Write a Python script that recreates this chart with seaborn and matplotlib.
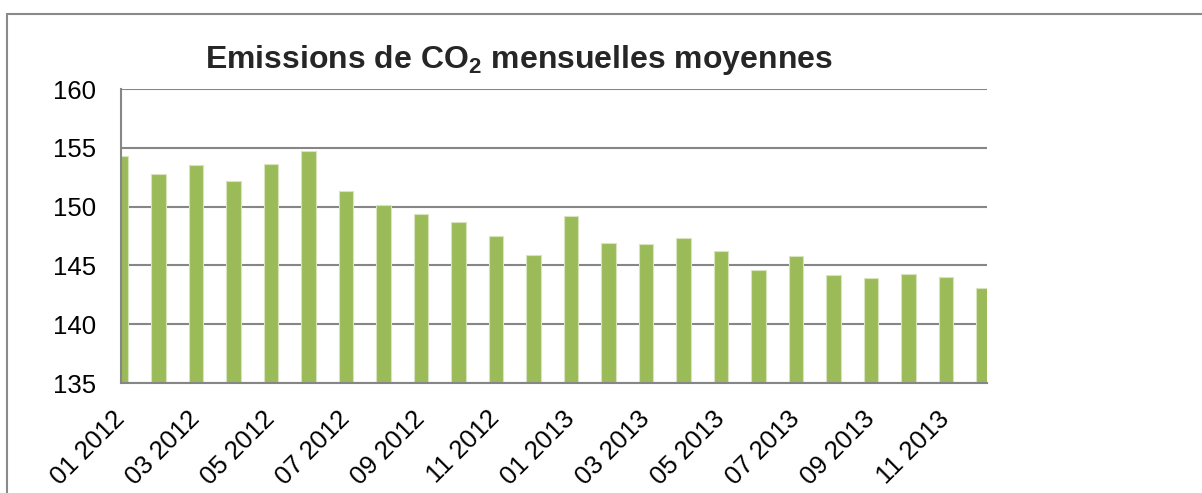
import matplotlib
matplotlib.use('Agg')
import matplotlib.pyplot as plt
import matplotlib.patches as patches
import pandas as pd
import seaborn as sns

# donnees
mois = ['01 2012', '02 2012', '03 2012', '04 2012', '05 2012', '06 2012',
        '07 2012', '08 2012', '09 2012', '10 2012', '11 2012', '12 2012',
        '01 2013', '02 2013', '03 2013', '04 2013', '05 2013', '06 2013',
        '07 2013', '08 2013', '09 2013', '10 2013', '11 2013', '12 2013']
emissions = [154.3, 152.8, 153.5, 152.2, 153.6, 154.7, 151.3, 150.1,
             149.4, 148.7, 147.5, 145.9, 149.2, 146.9, 146.8, 147.3,
             146.2, 144.6, 145.8, 144.2, 143.9, 144.3, 144.0, 143.1]
graduations_y = [135, 140, 145, 150, 155, 160]
titre = r'Emissions de CO$_\mathbf{2}$ mensuelles moyennes'

VERT = '#9BBB59'
GRIS = '#868686'


def draw_bar_chart():
    df = pd.DataFrame({'mois': mois, 'valeur': emissions})
    fig = plt.figure(figsize=(12.02, 4.93), dpi=100)
    ax = fig.add_axes([121 / 1202, 1 - 383 / 493, 866 / 1202, 294 / 493])

    sns.barplot(data=df, x='mois', y='valeur', color=VERT, saturation=1,
                width=0.39, edgecolor='#D7E4BD', linewidth=0.8, ax=ax, zorder=3)

    ax.set_ylim(graduations_y[0], graduations_y[-1])
    ax.set_yticks(graduations_y)
    ax.set_xlim(0, 23.09)
    ax.set_xticks(range(0, len(mois), 2))
    ax.set_xticklabels(mois[::2], rotation=45, ha='right', va='center',
                       rotation_mode='anchor')
    ax.set_xlabel('')
    ax.set_ylabel('')

    ax.grid(axis='y', color=GRIS, linewidth=1.5, zorder=0)
    ax.set_axisbelow(True)
    for cote in ['top', 'right']:
        ax.spines[cote].set_visible(False)
    for cote in ['left', 'bottom']:
        ax.spines[cote].set_color(GRIS)
        ax.spines[cote].set_linewidth(1.5)
        ax.spines[cote].set_zorder(4)
    ax.tick_params(axis='both', direction='out', length=6, width=1.5,
                   color=GRIS, labelsize=18.5, labelcolor='black')
    ax.tick_params(axis='x', pad=17)
    ax.tick_params(axis='y', pad=12)

    fig.text(519 / 1202, 1 - 60 / 493, titre, ha='center', va='center',
             fontsize=23, fontweight='bold')

    # cadre du graphique (coupe a droite et en bas)
    cadre = patches.Rectangle((7 / 1202, -0.1), 1.2, 1.1 - 14 / 493,
                              transform=fig.transFigure, fill=False,
                              edgecolor='#8A8A8A', linewidth=1.5, clip_on=False)
    fig.patches.append(cadre)
    return fig


if __name__ == '__main__':
    sns.set_style('white')
    plt.rcParams['font.family'] = ['Liberation Sans', 'DejaVu Sans']
    plt.rcParams['mathtext.fontset'] = 'custom'
    plt.rcParams['mathtext.rm'] = 'Liberation Sans'
    plt.rcParams['mathtext.bf'] = 'Liberation Sans:bold'
    fig = draw_bar_chart()
    fig.savefig('out.png', dpi=100)
